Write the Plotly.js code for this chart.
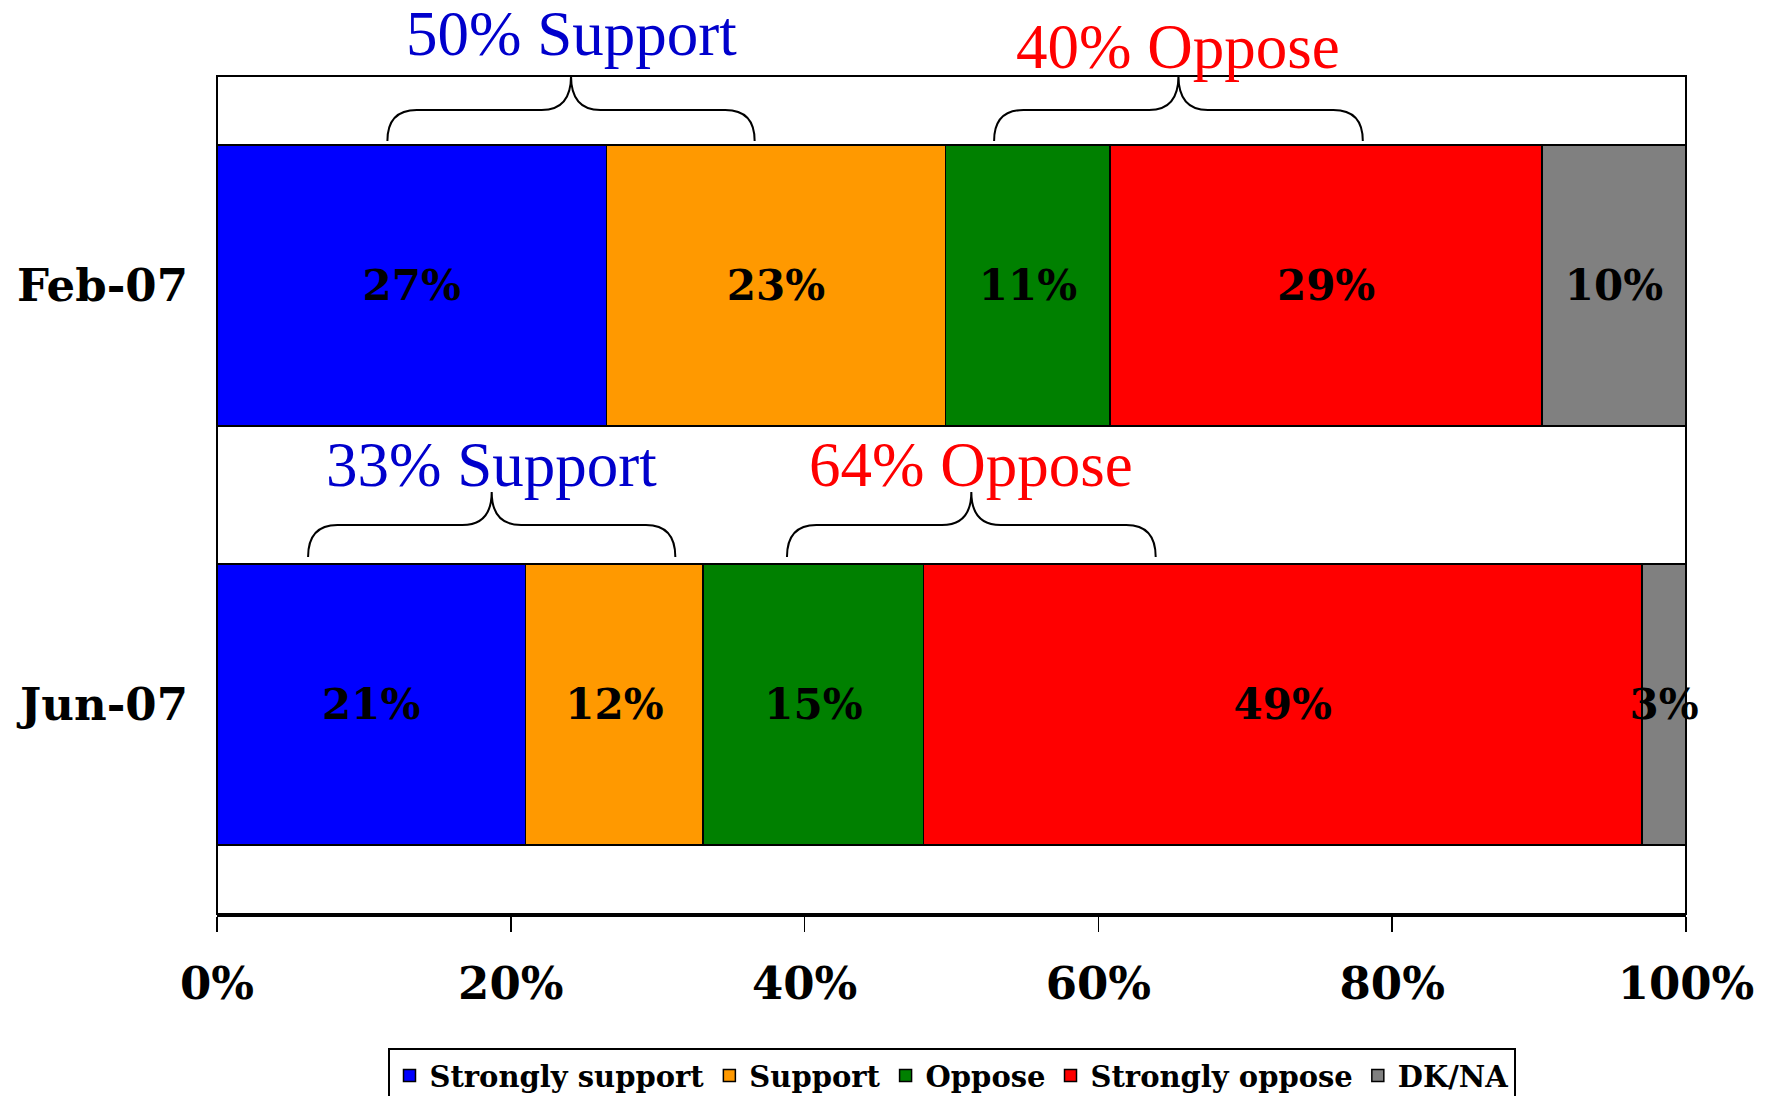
<!DOCTYPE html>
<html>
<head>
<meta charset="utf-8">
<script src="https://cdn.plot.ly/plotly-3.0.1.min.js"></script>
<style>html,body{margin:0;padding:0;background:#fff;}#chart{width:1772px;height:1096px;}</style>
</head>
<body>
<div id="chart"></div>
<script>
// ---- data ----
const periods = ['Feb-07', 'Jun-07'];
const seriesNames = ['Strongly support', 'Support', 'Oppose', 'Strongly oppose', 'DK/NA'];
const strongSupport = [26.5, 21.0];
const support = [23.1, 12.1];
const oppose = [11.2, 15.0];
const strongOppose = [29.4, 48.9];
const dkna = [9.8, 3.0];
const strongSupportLabels = ['27%', '21%'];
const supportLabels = ['23%', '12%'];
const opposeLabels = ['11%', '15%'];
const strongOpposeLabels = ['29%', '49%'];
const dknaLabels = ['10%', '3%'];
const seriesColors = ['#0000FF', '#FF9900', '#008000', '#FF0000', '#808080'];
const tickVals = [0, 20, 40, 60, 80, 100];
const tickLabels = ['0%', '20%', '40%', '60%', '80%', '100%'];
// summary brace labels: [text, period, brace start, brace end]
const summaryTexts = ['50% Support', '40% Oppose', '33% Support', '64% Oppose'];
const summaryPeriods = ['Feb-07', 'Feb-07', 'Jun-07', 'Jun-07'];
const braceStart = [11.6, 52.9, 6.2, 38.8];
const braceEnd = [36.6, 78.0, 31.2, 63.9];
const summaryColors = ['#0000CC', '#FF0000', '#0000CC', '#FF0000'];

const allValues = [strongSupport, support, oppose, strongOppose, dkna];
const allLabels = [strongSupportLabels, supportLabels, opposeLabels, strongOpposeLabels, dknaLabels];

const boldSerif = {family: 'DejaVu Serif', weight: 'bold', color: '#000'};

const traces = seriesNames.map((name, i) => ({
  type: 'bar',
  orientation: 'h',
  name: name,
  y: periods,
  x: allValues[i],
  text: allLabels[i],
  textposition: 'inside',
  insidetextanchor: 'middle',
  textangle: 0,
  cliponaxis: false,
  constraintext: 'none',
  textfont: Object.assign({size: 42}, boldSerif),
  marker: {color: seriesColors[i], line: {color: '#000', width: 1.5}},
  width: 0.67,
  hoverinfo: 'skip'
}));

// brace geometry (paper y for each period row)
const braceY = {
  'Feb-07': {tip: 1.0, mid: 0.9594, end: 0.9224, text: 1.050},
  'Jun-07': {tip: 0.5036, mid: 0.4642, end: 0.4260, text: 0.536}
};
const textYAdj = [0, -0.015, 0, 0];
const r = 2.0;
const shapes = [];
const annotations = [];
summaryTexts.forEach((t, i) => {
  const g = braceY[summaryPeriods[i]];
  const x0 = braceStart[i], x1 = braceEnd[i], xt = (x0 + x1) / 2;
  const path = `M ${x0} ${g.end} Q ${x0} ${g.mid} ${x0 + r} ${g.mid} L ${xt - r} ${g.mid} Q ${xt} ${g.mid} ${xt} ${g.tip} ` +
               `Q ${xt} ${g.mid} ${xt + r} ${g.mid} L ${x1 - r} ${g.mid} Q ${x1} ${g.mid} ${x1} ${g.end}`;
  shapes.push({type: 'path', xref: 'x', yref: 'paper', path: path, line: {color: '#000', width: 2}});
  annotations.push({
    xref: 'x', yref: 'paper', x: xt, y: g.text + textYAdj[i],
    xanchor: 'center', yanchor: 'middle', showarrow: false,
    text: t, font: {family: 'Liberation Serif', size: 63, color: summaryColors[i]}
  });
});
// plot frame
shapes.push({type: 'rect', xref: 'paper', yref: 'paper', x0: 0, x1: 1, y0: 0, y1: 1, line: {color: '#000', width: 2}, layer: 'above'});

const layout = {
  width: 1772, height: 1096,
  margin: {l: 217, r: 86, t: 76, b: 182, autoexpand: false},
  paper_bgcolor: '#fff', plot_bgcolor: '#fff',
  barmode: 'stack',
  showlegend: true,
  legend: {
    orientation: 'h', x: 0.5, xanchor: 'center', y: -0.16, yanchor: 'top',
    bordercolor: '#000', borderwidth: 2,
    font: {family: 'DejaVu Serif', weight: 'bold', size: 29, color: '#000'},
    itemwidth: 30, tracegroupgap: 0, traceorder: 'normal'
  },
  uniformtext: {mode: 'show', minsize: 42},
  xaxis: {
    range: [0, 100], tickvals: tickVals, ticktext: tickLabels,
    showgrid: false, zeroline: false,
    showline: true, linecolor: '#000', linewidth: 3,
    ticks: 'outside', ticklen: 15, tickwidth: 1.5, tickcolor: '#000',
    ticklabelstandoff: 13,
    tickfont: Object.assign({size: 45}, boldSerif),
    fixedrange: true
  },
  yaxis: {
    type: 'category', categoryorder: 'array', categoryarray: periods,
    range: [1.5, -0.5],
    showgrid: false, zeroline: false, showline: false,
    ticks: '', ticklabelstandoff: 28,
    tickfont: Object.assign({size: 45}, boldSerif),
    fixedrange: true
  },
  shapes: shapes,
  annotations: annotations
};

Plotly.newPlot('chart', traces, layout, {displayModeBar: false, staticPlot: true});
</script>
</body>
</html>
